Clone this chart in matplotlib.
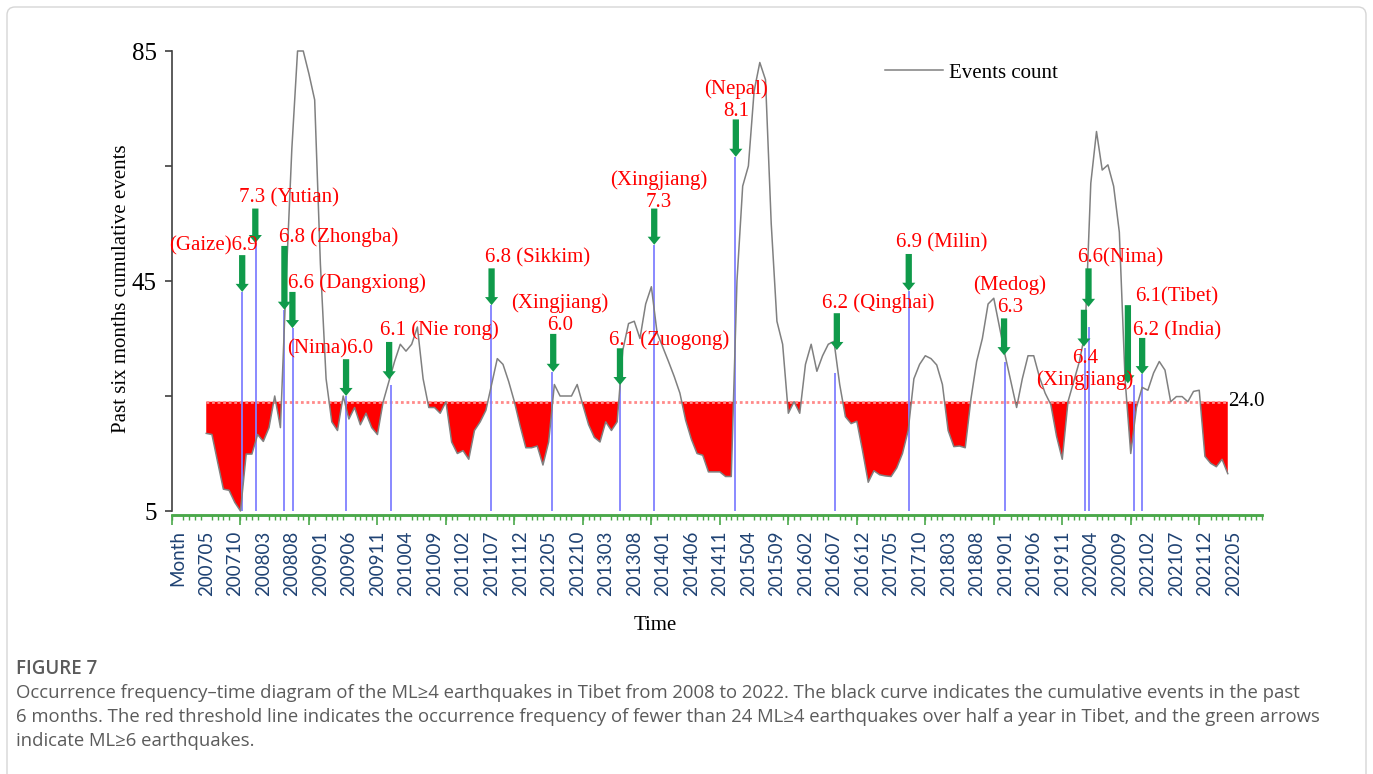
import matplotlib
matplotlib.use('Agg')
import matplotlib.pyplot as plt
from matplotlib.patches import FancyArrow, FancyBboxPatch
from matplotlib.transforms import IdentityTransform
import numpy as np

W, H, DPI = 1373, 774, 100

# ---------------- data ----------------
# past-six-month cumulative ML>=4 event counts, one value per month from 200705
events_count = [
    18.5, 18.3, 13.5, 8.8, 8.6, 6.5, 5.0, 14.9, 14.9, 18.3,
    17.1, 19.5, 25, 19.5, 45, 68, 85, 85, 81, 76.5,
    48, 28, 20.5, 19, 25, 21, 23, 20, 22, 19.5,
    18.3, 24, 27.5, 31, 34, 32.8, 34, 37, 28, 23,
    23, 22, 24, 17, 15, 15.5, 14, 19, 20.5, 22.5,
    27, 31.5, 30.5, 27.5, 24, 19.8, 16, 16, 16.3, 13,
    17, 27, 25, 25, 25, 27, 23.4, 20, 17.8, 17,
    20.5, 19, 20.5, 33, 37.6, 38, 35, 41, 44, 36,
    33.5, 31, 28.4, 25.5, 20.8, 17.5, 15, 14.7, 11.8, 11.8,
    11.8, 11, 11, 45, 61.5, 65, 78, 83, 80, 55,
    38, 34, 22, 24, 22, 30.5, 34, 29.3, 32, 34,
    34.5, 27, 21.4, 20.2, 20.6, 15.5, 10, 12, 11.3, 11.1,
    11, 12.5, 15, 19, 28, 30.5, 32, 31.5, 30.4, 27,
    19, 16.2, 16.3, 16, 24.5, 31, 35, 41, 42, 37,
    32, 27.5, 23, 28, 32, 32, 28.3, 25.5, 23.5, 18,
    14, 24, 27.5, 31, 36, 62, 71, 64.3, 65.2, 61.5,
    53.5, 28, 15, 23, 26.5, 26, 29, 31, 29.5, 24,
    24.9, 24.9, 24, 25.8, 26, 14.5, 13.3, 12.7, 14, 11.5,
]
threshold = 24.0

tick_labels = ['Month', '200705', '200710', '200803', '200808', '200901', '200906',
               '200911', '201004', '201009', '201102', '201107', '201112', '201205',
               '201210', '201303', '201308', '201401', '201406', '201411', '201504',
               '201509', '201602', '201607', '201612', '201705', '201710', '201803',
               '201808', '201901', '201906', '201911', '202004', '202009', '202102',
               '202107', '202112', '202205']

# ML>=6 earthquakes (position in month index, magnitude, place)
eq_month = [6.25, 8.7, 13.7, 15.2, 24.5, 32.3, 49.9, 60.6, 72.5, 78.5,
            92.6, 110.2, 123.1, 140.0, 153.9, 154.7, 162.6, 164.0]
eq_mag = ['6.9', '7.3', '6.8', '6.6', '6.0', '6.1', '6.8', '6.0', '6.1', '7.3',
          '8.1', '6.2', '6.9', '6.3', '6.4', '6.6', '6.1', '6.2']
eq_place = ['Gaize', 'Yutian', 'Zhongba', 'Dangxiong', 'Nima', 'Nie rong', 'Sikkim',
            'Xingjiang', 'Zuogong', 'Xingjiang', 'Nepal', 'Qinghai', 'Milin', 'Medog',
            'Xingjiang', 'Nima', 'Tibet', 'India']

# ---------------- layout of the annotations ----------------
label_fmt = ['({p}){m}', '{m} ({p})', '{m} ({p})', '{m} ({p})', '({p}){m}', '{m} ({p})',
             '{m} ({p})', '({p})\n{m}', '{m} ({p})', '({p})\n{m}', '({p})\n{m}',
             '{m} ({p})', '{m} ({p})', '({p})\n{m}', '{m}\n({p})', '{m}({p})',
             '{m}({p})', '{m} ({p})']
label_xy = [(1.3, 51.1), (14.5, 59.4), (23.2, 52.7), (26.4, 44.7), (21.7, 33.2),
            (40.8, 36.5), (58.1, 49.0), (62.0, 39.25), (81.1, 34.7), (79.3, 60.65),
            (92.9, 76.5), (117.8, 41.2), (128.9, 51.6), (140.8, 42.4), (154.0, 29.6),
            (160.2, 49.0), (170.0, 42.2), (170.1, 36.3)]
arrow_x = [6.3, 8.6, 13.7, 15.1, 24.5, 32.05, 50.0, 60.8, 72.5, 78.5,
           92.8, 110.5, 123.1, 139.8, 153.8, 154.6, 161.5, 164.0]
arrow_top = [49.5, 57.6, 51.1, 43.1, 31.4, 34.4, 47.2, 35.8, 33.3, 57.6,
             73.1, 39.4, 49.7, 38.5, 40.0, 47.2, 40.8, 35.1]
arrow_tip = [43.1, 51.6, 40.0, 36.8, 25.0, 27.9, 40.8, 29.2, 26.9, 51.3,
             66.6, 33.0, 43.3, 32.1, 33.6, 40.5, 27.2, 28.8]
line_top = [43.1, 51.6, 40.0, 36.8, 25.0, 26.9, 40.8, 29.2, 26.9, 51.3,
            66.6, 29.0, 43.3, 31.0, 33.3, 37.0, 26.9, 28.8]

SERIF = ['Liberation Serif', 'DejaVu Serif']
GREEN_AX = '#4aa84a'
ARROW_GREEN = '#0f9a4a'
TICK_BLUE = '#1F4273'

fig = plt.figure(figsize=(W / DPI, H / DPI), dpi=DPI)
fig.patch.set_facecolor('white')
L, R, T, B = 172, 1262, 51, 511
ax = fig.add_axes([L / W, 1 - B / H, (R - L) / W, (B - T) / H])

x = np.arange(len(events_count))
y = np.array(events_count, dtype=float)

ax.fill_between(x, y, threshold, where=y < threshold, interpolate=True,
                color='#ff0000', linewidth=0, zorder=2)
ax.hlines(threshold, x[0], x[-1], colors='#ff8a8a', linestyles=(0, (1, 1)),
          linewidth=2.0, zorder=3)
ax.plot(x, y, color='#808080', lw=1.1, zorder=4, label='Events count', clip_on=False)

ax.vlines(eq_month, 5, line_top, colors='#8080ff', lw=1.3, zorder=3.5)

for i in range(len(eq_month)):
    ax.add_patch(FancyArrow(arrow_x[i], arrow_top[i], 0, arrow_tip[i] - arrow_top[i],
                            width=1.1, head_width=2.3, head_length=1.4,
                            length_includes_head=True, color=ARROW_GREEN,
                            lw=0, zorder=6))
    txt = label_fmt[i].format(p=eq_place[i], m=eq_mag[i])
    ax.text(label_xy[i][0], label_xy[i][1], txt, ha='center', va='center',
            multialignment='center', color='#ff0000', fontsize=15,
            family=SERIF, zorder=7)

ax.text(179.0, threshold, '24.0', ha='left', va='center', fontsize=15,
        family=SERIF, color='black', zorder=7)

ax.set_xlim(-6, 185)
ax.set_ylim(5, 85)

# spines
for s in ('top', 'right'):
    ax.spines[s].set_visible(False)
ax.spines['left'].set_color('#404040')
ax.spines['left'].set_linewidth(1.2)
ax.spines['bottom'].set_color(GREEN_AX)
ax.spines['bottom'].set_linewidth(1.8)
ax.spines['bottom'].set_position(('outward', 3))

# y ticks
yt = [5, 25, 45, 65, 85]
ax.set_yticks(yt, ['5', '', '45', '', '85'])
ax.tick_params(axis='y', direction='out', length=5, width=1.2, color='#404040',
               pad=6, labelsize=18)
for lab in ax.get_yticklabels():
    lab.set_family(SERIF)

# x ticks: labels every 5 months, minor ticks every month
label_pos = np.arange(len(tick_labels)) * 5 - 5
ax.set_xticks(label_pos, tick_labels, rotation=90)
ax.set_xticks(np.arange(-6, 185.5, 1), minor=True)
ax.tick_params(axis='x', which='major', length=0, pad=11, labelsize=13.5,
               labelcolor=TICK_BLUE)
ax.tick_params(axis='x', which='minor', direction='out', length=3.5, width=1,
               color=GREEN_AX)
for lab in ax.get_xticklabels():
    lab.set_family(['Lato', 'DejaVu Sans'])
    lab.set_verticalalignment('top')

sec = ax.secondary_xaxis('bottom')
sec.set_xticks(np.arange(-6, 186, 12))
sec.tick_params(axis='x', direction='out', length=7, width=1.2, color=GREEN_AX,
                labelbottom=False)
sec.spines['bottom'].set_color(GREEN_AX)
sec.spines['bottom'].set_linewidth(1.8)
sec.spines['bottom'].set_position(('outward', 3))

# axis titles
fig.text(122 / W, 1 - 289 / H, 'Past six months cumulative events', rotation=90,
         ha='center', va='center', fontsize=15, family=SERIF)
fig.text(655 / W, 1 - 625 / H, 'Time', ha='center', va='center', fontsize=15,
         family=SERIF)

leg = ax.legend(loc='center left', bbox_to_anchor=((885 - L) / (R - L), (B - 73) / (B - T)),
                frameon=False, handlelength=2.8, handletextpad=0.25, borderpad=0,
                borderaxespad=0, prop={'family': SERIF, 'size': 15})

# frame around the figure
fig.patches.append(FancyBboxPatch((7, -30), 1359, H - 7 + 30,
                                  boxstyle='round,pad=0,rounding_size=8',
                                  transform=IdentityTransform(), fc='none',
                                  ec='#d6d6d6', lw=1.0, zorder=0))

# caption
CAP = ['Open Sans', 'DejaVu Sans']
cap_color = '#5b5b5b'
fig.text(16 / W, 1 - 669 / H, 'FIGURE 7', ha='left', va='center', fontsize=13.5,
         family=CAP, color=cap_color, fontweight='semibold')
cap_lines = [
    'Occurrence frequency\u2013time diagram of the ML\u22654 earthquakes in Tibet from 2008 to 2022. The black curve indicates the cumulative events in the past',
    '6 months. The red threshold line indicates the occurrence frequency of fewer than 24 ML\u22654 earthquakes over half a year in Tibet, and the green arrows',
    'indicate ML\u22656 earthquakes.',
]
cap_y = [693, 717, 741]
caps = [fig.text(16 / W, 1 - cy / H, s, ha='left', va='center', fontsize=12,
                 family=CAP, color=cap_color) for s, cy in zip(cap_lines, cap_y)]
fig.canvas.draw()
r = fig.canvas.get_renderer()
wpx = caps[1].get_window_extent(r).width
fs = 12 * (1333 - 16) / wpx * 0.985
for c in caps:
    c.set_fontsize(fs)

fig.savefig('out.png', dpi=DPI, facecolor='white')
